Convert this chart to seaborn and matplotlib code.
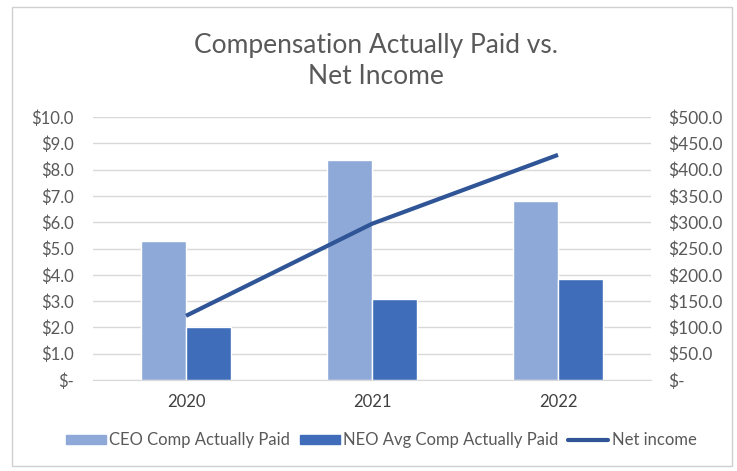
import numpy as np
import pandas as pd
import matplotlib
matplotlib.use("Agg")
import matplotlib.pyplot as plt
import seaborn as sns
from matplotlib.ticker import FuncFormatter
from matplotlib.patches import Rectangle, Patch
from matplotlib.lines import Line2D

years = ["2020", "2021", "2022"]
ceo_comp = [5.3, 8.35, 6.8]
neo_comp = [2.0, 3.07, 3.84]
net_income = [122.0, 297.0, 428.0]
series_names = ["CEO Comp Actually Paid", "NEO Avg Comp Actually Paid"]
line_name = "Net income"
title = "Compensation Actually Paid vs.\nNet Income"

sns.set_style("white")
plt.rcParams["font.family"] = ["Lato", "DejaVu Sans"]

TXT = "#595959"
c_ceo = "#8EA9D8"
c_neo = "#3F6DBA"
c_line = "#2F5597"

df = pd.DataFrame({
    "year": years * 2,
    "value": ceo_comp + neo_comp,
    "series": [series_names[0]] * 3 + [series_names[1]] * 3,
})

fig = plt.figure(figsize=(7.37, 4.71), dpi=100)
fig.patches.append(Rectangle((12 / 737, 5 / 471), 720 / 737, 459 / 471, transform=fig.transFigure,
                             fill=False, edgecolor="#d0d0d0", linewidth=1.0))
ax = fig.add_axes([93 / 737, 1 - 380 / 471, 558 / 737, 263 / 471])

sns.barplot(data=df, x="year", y="value", hue="series", order=years, hue_order=series_names,
            palette=[c_ceo, c_neo], width=0.48, gap=0, saturation=1, ax=ax, legend=False)
ax.set_ylim(0, 10)
ax.set_xlim(-0.5, 2.5)
ax.set_yticks(np.arange(0, 10.01, 1))

def fmt_money(v, p):
    return "$-" if abs(v) < 1e-9 else f"${v:.1f}"

ax.yaxis.set_major_formatter(FuncFormatter(fmt_money))
ax.grid(axis="y", color="#d9d9d9", linewidth=1)
ax.set_axisbelow(True)
for s in ax.spines.values():
    s.set_visible(False)
ax.spines["bottom"].set_visible(True)
ax.spines["bottom"].set_color("#d9d9d9")
ax.tick_params(axis="y", length=0, pad=14, labelsize=12, labelcolor=TXT)
ax.tick_params(axis="x", length=0, pad=10, labelsize=12, labelcolor="#404040")
ax.set_xlabel("")
ax.set_ylabel("")

ax2 = ax.twinx()
sns.lineplot(x=np.arange(len(years)), y=net_income, color=c_line, linewidth=3, ax=ax2,
             solid_capstyle="butt")
ax2.set_ylim(0, 500)
ax2.set_yticks(np.arange(0, 500.1, 50))
ax2.yaxis.set_major_formatter(FuncFormatter(fmt_money))
ax2.tick_params(axis="y", length=0, pad=12, labelsize=12.5, labelcolor=TXT)
for s in ax2.spines.values():
    s.set_visible(False)
ax2.set_ylabel("")

fig.text(376 / 737, 1 - 61 / 471, title, ha="center", va="center", multialignment="center",
         fontsize=19, color=TXT, linespacing=1.3)

handles = [Patch(color=c_ceo, label=series_names[0]),
           Patch(color=c_neo, label=series_names[1]),
           Line2D([0], [0], color=c_line, lw=3, label=line_name)]
fig.legend(handles=handles, loc="center", bbox_to_anchor=(381 / 737, 1 - 440 / 471), ncol=3,
           frameon=False, fontsize=12, labelcolor=TXT, handlelength=2.4, handleheight=0.45,
           handletextpad=0.2, columnspacing=0.6)

fig.savefig("out.png", dpi=100)
